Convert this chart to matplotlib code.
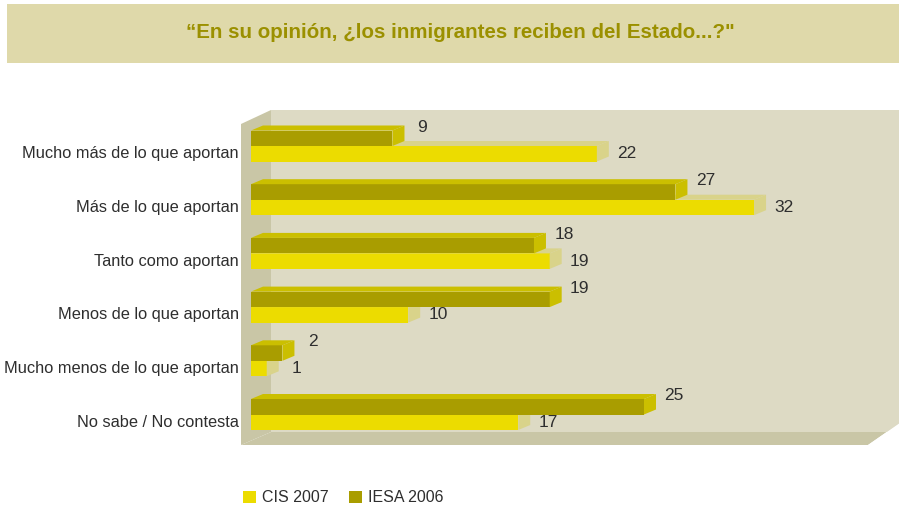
import matplotlib
matplotlib.use("Agg")
import matplotlib.pyplot as plt
from matplotlib.patches import Polygon, Rectangle, Patch

# data
categories = ["Mucho más de lo que aportan", "Más de lo que aportan", "Tanto como aportan",
              "Menos de lo que aportan", "Mucho menos de lo que aportan", "No sabe / No contesta"]
cis_2007 = [22, 32, 19, 10, 1, 17]
iesa_2006 = [9, 27, 18, 19, 2, 25]
series_names = ["CIS 2007", "IESA 2006"]
title = "“En su opinión, ¿los inmigrantes reciben del Estado...?\""

# colours
band_col = "#dfd9aa"
title_col = "#9b9000"
wall_col = "#dddac4"
floor_col = "#c9c6a6"
cis_front, cis_shade = "#ecdc00", "#d9d38a"
iesa_front, iesa_shade = "#a99d00", "#cbbf00"
text_col = "#2e2e2e"

plt.rcParams['font.family'] = ['Liberation Sans', 'DejaVu Sans']

W, H = 899, 509
fig = plt.figure(figsize=(W / 100, H / 100), dpi=100)
ax = fig.add_axes([0, 0, 1, 1])

# scale: value 0 at x=251px, 15.72 px per unit; category i centred at 146 + 53.7*i px
x0, xunit = 251, 15.72
y0, ystep = 146, 53.7
ax.set_xlim(-x0 / xunit, (W - x0) / xunit)
ax.set_ylim((H - y0) / ystep, -y0 / ystep)
ax.axis('off')


def X(px):
    return (px - x0) / xunit


def Y(py):
    return (py - y0) / ystep


bar_h = 15.5 / ystep
ddx, ddy = 12 / xunit, 5 / ystep

# box: back wall, left wall, floor
ax.add_patch(Polygon([(X(271), Y(110)), (X(W + 5), Y(110)), (X(W + 5), Y(432)), (X(271), Y(432))],
                     closed=True, fc=wall_col, lw=0, zorder=0))
ax.add_patch(Polygon([(X(241), Y(124)), (X(271), Y(110)), (X(271), Y(432)), (X(241), Y(445))],
                     closed=True, fc=floor_col, lw=0, zorder=0))
ax.add_patch(Polygon([(X(241), Y(445)), (X(271), Y(432)), (X(W + 5), Y(432)), (X(W + 5), Y(420)),
                      (X(868), Y(445))], closed=True, fc=floor_col, lw=0, zorder=0))
ax.add_patch(Polygon([(X(868), Y(445)), (X(W + 5), Y(420)), (X(W + 5), Y(445))],
                     closed=True, fc="white", lw=0, zorder=0))


def bar3d(ytop, val, front, shade):
    ax.add_patch(Rectangle((0, ytop), val, bar_h, fc=front, lw=0, zorder=2))
    ax.add_patch(Polygon([(0, ytop), (val, ytop), (val + ddx, ytop - ddy), (ddx, ytop - ddy)],
                         closed=True, fc=shade, lw=0, zorder=2))
    ax.add_patch(Polygon([(val, ytop), (val, ytop + bar_h), (val + ddx, ytop + bar_h - ddy),
                          (val + ddx, ytop - ddy)], closed=True, fc=shade, lw=0, zorder=2))


lab_off = 30 / xunit
for i, (cat, c, s) in enumerate(zip(categories, cis_2007, iesa_2006)):
    bar3d(i, c, cis_front, cis_shade)
    bar3d(i - bar_h, s, iesa_front, iesa_shade)
    ax.text(X(239), i + bar_h / 2, cat, ha='right', va='center', fontsize=11.8, color=text_col)
    ax.text(c + lab_off, i + bar_h / 2, str(c), ha='center', va='center', fontsize=12.5,
            color=text_col, zorder=3)
    ax.text(s + lab_off, i - bar_h - ddy / 2 - 1 / ystep, str(s), ha='center', va='center',
            fontsize=12.5, color=text_col, zorder=3)

# title band
fig.patches.append(Rectangle((7 / W, 1 - 63 / H), (W - 7) / W, 59 / H, fc=band_col, lw=0,
                             transform=fig.transFigure, zorder=0))
fig.text(460 / W, 1 - 32 / H, title, ha='center', va='center', fontsize=14.8, fontweight='bold',
         color=title_col)

handles = [Patch(fc=cis_front, lw=0), Patch(fc=iesa_front, lw=0)]
fig.legend(handles, series_names, loc='center left', bbox_to_anchor=(243 / W, 1 - 498 / H),
           frameon=False, ncol=2, fontsize=11.5, handlelength=0.81, handleheight=0.81,
           handletextpad=0.38, columnspacing=1.25, borderpad=0, borderaxespad=0,
           labelcolor=text_col)

fig.savefig("out.png", dpi=100)
